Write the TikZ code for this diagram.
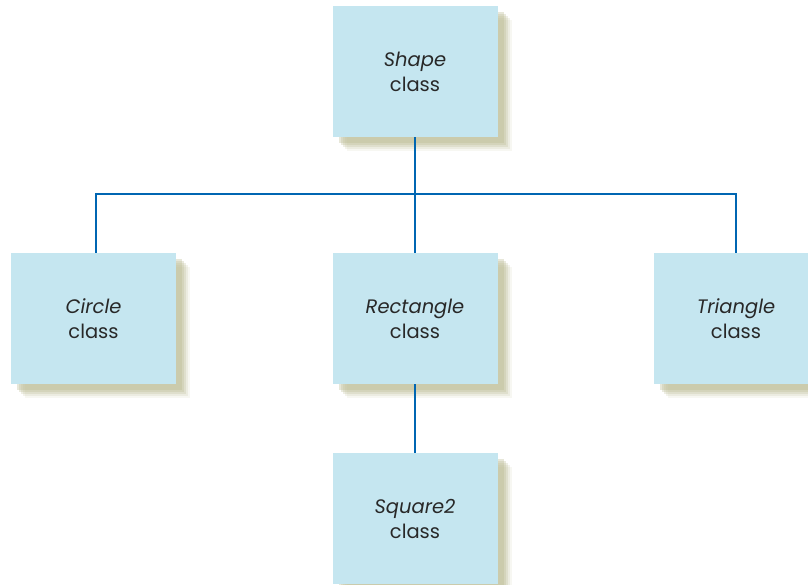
\documentclass[tikz,border=0pt]{standalone}
\usepackage{fontspec}
\setmainfont{Poppins}
\usepackage{tikz}
\usetikzlibrary{shadows}
\definecolor{boxfill}{RGB}{197, 230, 240}
\definecolor{wire}{RGB}{0, 102, 178}
\definecolor{shade}{RGB}{186, 186, 146}
\definecolor{ink}{RGB}{40, 40, 40}

\tikzset{
  classbox/.style={fill=boxfill, minimum width=165pt, minimum height=131pt,
    inner sep=0pt, align=center, text=ink, font=\fontsize{19.5}{25}\selectfont,
    drop shadow={shadow xshift=14pt, shadow yshift=-14pt, fill=shade, opacity=0.12},
    drop shadow={shadow xshift=12pt, shadow yshift=-12pt, fill=shade, opacity=0.18},
    drop shadow={shadow xshift=10pt, shadow yshift=-10pt, fill=shade, opacity=0.25},
    drop shadow={shadow xshift=8pt, shadow yshift=-8pt, fill=shade, opacity=0.3},
    drop shadow={shadow xshift=6pt, shadow yshift=-6pt, fill=shade, opacity=0.35}},
  link/.style={draw=wire, line width=2.8pt}
}

\begin{document}
\begin{tikzpicture}[x=1pt, y=-1pt]
  \clip (0, 0) rectangle (808, 585);

  \node[classbox] (shape) at (415, 71.5) {\textit{Shape}\\class};

  \node[classbox] (circle) at (93.5, 318.5) {\textit{Circle}\\class};
  \node[classbox] (rect) at (415, 318.5) {\textit{Rectangle}\\class};
  \node[classbox] (triangle) at (736, 318.5) {\textit{Triangle}\\class};

  \node[classbox] (square) at (415, 518.5) {\textit{Square2}\\class};

  \coordinate (bus) at (415, 194);

  \draw[link] (shape.south) -- (rect.north);
  \draw[link] ([xshift=2.5pt]circle.north) |- (bus) -| (triangle.north);
  \draw[link] (rect.south) -- (square.north);

\end{tikzpicture}
\end{document}
